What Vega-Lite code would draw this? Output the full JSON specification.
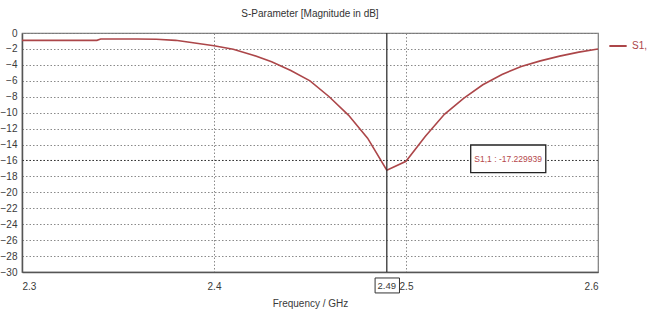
{
  "$schema": "https://vega.github.io/schema/vega-lite/v6.json",
  "autosize": {"type": "none"},
  "padding": {"left": 22, "top": 33, "right": 49, "bottom": 44},
  "width": 576,
  "height": 239,
  "background": "white",
  "title": {
    "text": "S-Parameter [Magnitude in dB]",
    "fontSize": 10,
    "font": "Liberation Sans",
    "fontWeight": "normal",
    "color": "#333333",
    "anchor": "middle",
    "offset": 9
  },
  "config": {
    "view": {"stroke": "#7a7a7a", "strokeWidth": 1.2},
    "axis": {
      "labelFont": "Liberation Sans",
      "titleFont": "Liberation Sans",
      "labelFontSize": 10,
      "labelColor": "#3a3a3a",
      "titleColor": "#3a3a3a",
      "titleFontWeight": "normal",
      "titleFontSize": 10,
      "labelOverlap": false,
      "ticks": false,
      "gridColor": "#8a8a8a",
      "gridDash": [1.5, 2],
      "gridOpacity": 1,
      "gridWidth": 1,
      "domainColor": "#555555",
      "domainWidth": 1.5
    }
  },
  "datasets": {
    "curve": [
      {"f": 2.300, "db": -0.92, "s": "S1,1"},
      {"f": 2.310, "db": -0.92, "s": "S1,1"},
      {"f": 2.320, "db": -0.92, "s": "S1,1"},
      {"f": 2.330, "db": -0.92, "s": "S1,1"},
      {"f": 2.339, "db": -0.92, "s": "S1,1"},
      {"f": 2.341, "db": -0.76, "s": "S1,1"},
      {"f": 2.350, "db": -0.76, "s": "S1,1"},
      {"f": 2.360, "db": -0.76, "s": "S1,1"},
      {"f": 2.370, "db": -0.78, "s": "S1,1"},
      {"f": 2.380, "db": -0.92, "s": "S1,1"},
      {"f": 2.390, "db": -1.25, "s": "S1,1"},
      {"f": 2.400, "db": -1.6, "s": "S1,1"},
      {"f": 2.410, "db": -2.05, "s": "S1,1"},
      {"f": 2.420, "db": -2.75, "s": "S1,1"},
      {"f": 2.430, "db": -3.6, "s": "S1,1"},
      {"f": 2.440, "db": -4.7, "s": "S1,1"},
      {"f": 2.450, "db": -6.0, "s": "S1,1"},
      {"f": 2.460, "db": -8.0, "s": "S1,1"},
      {"f": 2.470, "db": -10.3, "s": "S1,1"},
      {"f": 2.480, "db": -13.2, "s": "S1,1"},
      {"f": 2.490, "db": -17.229939, "s": "S1,1"},
      {"f": 2.500, "db": -16.1, "s": "S1,1"},
      {"f": 2.510, "db": -13.0, "s": "S1,1"},
      {"f": 2.520, "db": -10.2, "s": "S1,1"},
      {"f": 2.530, "db": -8.2, "s": "S1,1"},
      {"f": 2.540, "db": -6.5, "s": "S1,1"},
      {"f": 2.550, "db": -5.2, "s": "S1,1"},
      {"f": 2.560, "db": -4.2, "s": "S1,1"},
      {"f": 2.570, "db": -3.5, "s": "S1,1"},
      {"f": 2.580, "db": -2.9, "s": "S1,1"},
      {"f": 2.590, "db": -2.4, "s": "S1,1"},
      {"f": 2.600, "db": -2.0, "s": "S1,1"}
    ],
    "one": [{}]
  },
  "layer": [
    {
      "data": {"name": "curve"},
      "mark": {"type": "line", "strokeWidth": 1.6, "clip": true},
      "encoding": {
        "x": {
          "field": "f", "type": "quantitative",
          "scale": {"domain": [2.3, 2.6], "nice": false, "zero": false},
          "axis": {"values": [2.3, 2.4, 2.5, 2.6], "format": ".1f", "title": "Frequency / GHz", "labelPadding": 9, "titlePadding": 7}
        },
        "y": {
          "field": "db", "type": "quantitative",
          "scale": {"domain": [-30, 0], "nice": false},
          "axis": {"values": [-30, -28, -26, -24, -22, -20, -18, -16, -14, -12, -10, -8, -6, -4, -2, 0], "title": null, "labelPadding": 5}
        },
        "color": {
          "field": "s", "type": "nominal",
          "scale": {"range": ["#ac4649"]},
          "legend": {
            "title": null,
            "orient": "none",
            "legendX": 586,
            "legendY": 3,
            "symbolType": "stroke",
            "symbolSize": 300,
            "symbolStrokeWidth": 2,
            "labelFont": "Liberation Sans",
            "labelFontSize": 10,
            "labelColor": "#ac4649"
          }
        }
      }
    },
    {
      "data": {"name": "one"},
      "mark": {"type": "rule", "color": "#333333", "strokeDash": [1.5, 2], "strokeWidth": 1},
      "encoding": {
        "y": {"datum": -16, "type": "quantitative",
              "axis": {"values": [-30, -28, -26, -24, -22, -20, -18, -16, -14, -12, -10, -8, -6, -4, -2, 0], "title": null, "labelPadding": 5}}
      }
    },
    {
      "data": {"name": "one"},
      "mark": {"type": "rule", "color": "#333333", "strokeWidth": 1.3},
      "encoding": {
        "x": {"datum": 2.49, "type": "quantitative",
              "axis": {"values": [2.3, 2.4, 2.5, 2.6], "format": ".1f", "title": "Frequency / GHz", "labelPadding": 9, "titlePadding": 7}}
      }
    },
    {
      "data": {"name": "one"},
      "mark": {"type": "rect", "fill": "white", "stroke": "#333333", "strokeWidth": 1},
      "encoding": {
        "x": {"datum": 2.4839, "type": "quantitative",
              "axis": {"values": [2.3, 2.4, 2.5, 2.6], "format": ".1f", "title": "Frequency / GHz", "labelPadding": 9, "titlePadding": 7}},
        "x2": {"datum": 2.4966},
        "y": {"datum": -30.75, "type": "quantitative",
              "axis": {"values": [-30, -28, -26, -24, -22, -20, -18, -16, -14, -12, -10, -8, -6, -4, -2, 0], "title": null, "labelPadding": 5}},
        "y2": {"datum": -32.63}
      }
    },
    {
      "data": {"name": "one"},
      "mark": {"type": "text", "fontSize": 9.5, "color": "#3a3a3a", "baseline": "middle", "align": "center", "font": "Liberation Sans"},
      "encoding": {
        "x": {"datum": 2.49, "type": "quantitative",
              "axis": {"values": [2.3, 2.4, 2.5, 2.6], "format": ".1f", "title": "Frequency / GHz", "labelPadding": 9, "titlePadding": 7}},
        "y": {"datum": -31.7, "type": "quantitative",
              "axis": {"values": [-30, -28, -26, -24, -22, -20, -18, -16, -14, -12, -10, -8, -6, -4, -2, 0], "title": null, "labelPadding": 5}},
        "text": {"value": "2.49"}
      }
    },
    {
      "data": {"name": "one"},
      "mark": {"type": "rect", "fill": "white", "stroke": "#222222", "strokeWidth": 1.3},
      "encoding": {
        "x": {"datum": 2.5337, "type": "quantitative",
              "axis": {"values": [2.3, 2.4, 2.5, 2.6], "format": ".1f", "title": "Frequency / GHz", "labelPadding": 9, "titlePadding": 7}},
        "x2": {"datum": 2.5728},
        "y": {"datum": -14.06, "type": "quantitative",
              "axis": {"values": [-30, -28, -26, -24, -22, -20, -18, -16, -14, -12, -10, -8, -6, -4, -2, 0], "title": null, "labelPadding": 5}},
        "y2": {"datum": -17.53}
      }
    },
    {
      "data": {"name": "one"},
      "mark": {"type": "text", "fontSize": 8.5, "color": "#b5474b", "baseline": "middle", "align": "center", "font": "Liberation Sans"},
      "encoding": {
        "x": {"datum": 2.5532, "type": "quantitative",
              "axis": {"values": [2.3, 2.4, 2.5, 2.6], "format": ".1f", "title": "Frequency / GHz", "labelPadding": 9, "titlePadding": 7}},
        "y": {"datum": -15.8, "type": "quantitative",
              "axis": {"values": [-30, -28, -26, -24, -22, -20, -18, -16, -14, -12, -10, -8, -6, -4, -2, 0], "title": null, "labelPadding": 5}},
        "text": {"value": "S1,1 : -17.229939"}
      }
    }
  ]
}
